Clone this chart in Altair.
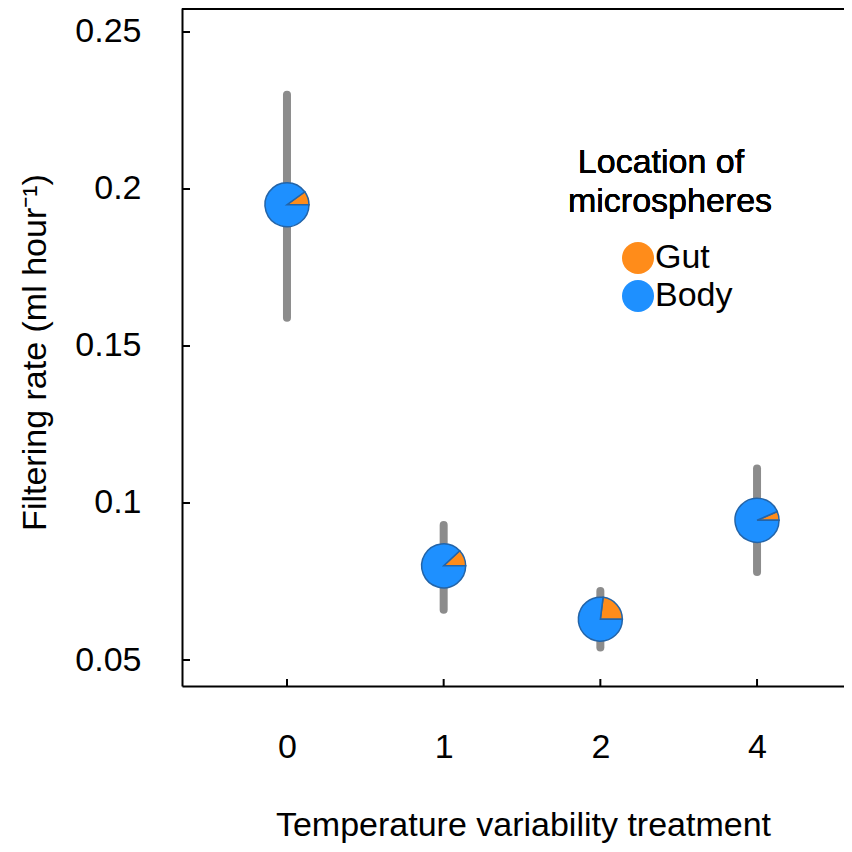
import math
import altair as alt
import pandas as pd

# ---- data ----
treatment = ["0", "1", "2", "4"]
rate = [0.195, 0.080, 0.063, 0.0945]
rate_lo = [0.159, 0.066, 0.054, 0.078]
rate_hi = [0.230, 0.093, 0.072, 0.111]
gut_fraction = [0.10, 0.12, 0.23, 0.065]
locations = ["Gut", "Body"]
loc_colors = ["#FF8C1A", "#1E90FF"]
y_ticks = [0.05, 0.1, 0.15, 0.2, 0.25]

FONT = "Liberation Sans"
FS = 34
W, H = 662, 678
PAD_L = 174
PAD_B = 158

pos = list(range(len(treatment)))
pts = pd.DataFrame({"pos": pos, "treatment": treatment, "rate": rate, "lo": rate_lo, "hi": rate_hi})

rows = []
for p, r, f in zip(pos, rate, gut_fraction):
    rows.append({"pos": p, "rate": r, "location": "Gut",
                 "a0": math.pi / 2 - 2 * math.pi * f, "a1": math.pi / 2})
    rows.append({"pos": p, "rate": r, "location": "Body",
                 "a0": math.pi / 2, "a1": 2.5 * math.pi - 2 * math.pi * f})
pies = pd.DataFrame(rows)

label_expr = "[" + ",".join("'%s'" % t for t in treatment) + "][datum.value]"

x_scale = alt.Scale(domain=[-0.670, 3.555], nice=False, zero=False)
y_scale = alt.Scale(domain=[0.04172, 0.25764], nice=False, zero=False)

x_enc = alt.X("pos:Q", scale=x_scale,
              axis=alt.Axis(title="Temperature variability treatment", values=pos, labelExpr=label_expr,
                            labelAngle=0, ticks=False, labelPadding=44, domainWidth=2,
                            domainColor="black", labelFontSize=FS, titleFontSize=FS,
                            labelFont=FONT, titleFont=FONT, labelColor="black", titleColor="black",
                            titleFontWeight="normal", titleX=341, titleY=139, titleAlign="center",
                            titleBaseline="middle", grid=False, labelFlush=False))
y_enc = alt.Y("rate:Q", scale=y_scale, stack=None,
              axis=alt.Axis(title="Filtering rate (ml hour⁻¹)", values=y_ticks, format="~g",
                            ticks=False, labelPadding=41, domainWidth=2, domainColor="black",
                            labelFontSize=FS, titleFontSize=FS, labelFont=FONT, titleFont=FONT,
                            labelColor="black", titleColor="black", titleFontWeight="normal",
                            titleX=-147, titleY=344, titleAngle=-90, titleAlign="center",
                            titleBaseline="middle", grid=False, labelFlush=False))

errbars = alt.Chart(pts).mark_rule(color="#8c8c8c", strokeWidth=8, strokeCap="round").encode(
    x=x_enc, y=alt.Y("lo:Q", scale=y_scale), y2="hi:Q"
)

pie = alt.Chart(pies).mark_arc(outerRadius=22, stroke="#2364a8", strokeWidth=1.5).encode(
    x=alt.X("pos:Q", scale=x_scale),
    y=y_enc,
    theta=alt.Theta("a0:Q", scale=None, stack=None),
    theta2="a1:Q",
    color=alt.Color("location:N", scale=alt.Scale(domain=locations, range=loc_colors),
                    legend=alt.Legend(title=None, orient="none", legendX=439, legendY=233,
                                      padding=0, symbolType="circle", symbolSize=1024,
                                      symbolStrokeWidth=0, symbolOpacity=1,
                                      labelFont=FONT, labelFontSize=FS, labelColor="black",
                                      labelOffset=0, rowPadding=4)),
)

yticks_df = pd.DataFrame({"v": y_ticks})
ytick_marks = alt.Chart(yticks_df).mark_rule(color="black", strokeWidth=2).encode(
    y=alt.Y("v:Q", scale=y_scale), x=alt.value(0), x2=alt.value(8)
)
xtick_marks = alt.Chart(pts).mark_rule(color="black", strokeWidth=2).encode(
    x=alt.X("pos:Q", scale=x_scale), y=alt.value(H), y2=alt.value(H - 7)
)
top_line = alt.Chart(pts).mark_rule(color="black", strokeWidth=2).encode(
    x=alt.value(0), x2=alt.value(W), y=alt.value(1)
)

head1 = alt.Chart(pts).mark_text(text="Location of", font=FONT, fontSize=FS, color="black",
                                 align="center", baseline="middle").encode(
    x=alt.value(479), y=alt.value(155))
head2 = alt.Chart(pts).mark_text(text="microspheres", font=FONT, fontSize=FS, color="black",
                                 align="center", baseline="middle").encode(
    x=alt.value(488), y=alt.value(194))

chart = alt.layer(errbars, pie, ytick_marks, xtick_marks, top_line, head1, head2).properties(
    width=W, height=H,
    autosize=alt.AutoSizeParams(type="none"),
    padding={"left": PAD_L, "top": 0, "right": 0, "bottom": PAD_B},
).configure_view(stroke=None).configure(background="white")

chart.save("out.html", embed_options={"renderer": "svg", "actions": False})
